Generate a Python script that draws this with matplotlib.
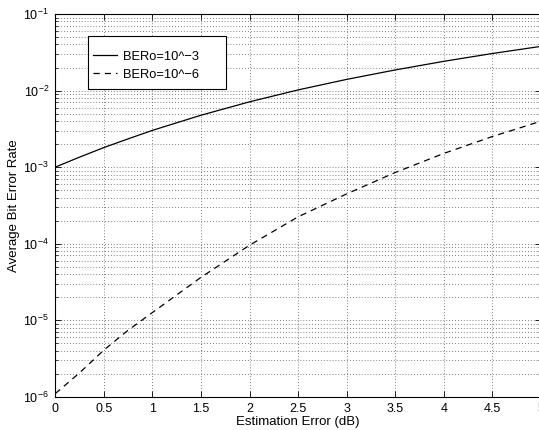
import matplotlib
matplotlib.use('Agg')
import matplotlib.pyplot as plt
from matplotlib.patches import Rectangle
from matplotlib.ticker import LogLocator, NullFormatter

plt.rcParams['font.family'] = ['Liberation Sans', 'DejaVu Sans']
plt.rcParams['mathtext.fontset'] = 'custom'
plt.rcParams['mathtext.rm'] = 'Liberation Sans'
plt.rcParams['mathtext.it'] = 'Liberation Sans'

# estimation error (dB)
err_db = [0, 0.25, 0.5, 0.75, 1, 1.5, 2, 2.5, 3, 3.5, 4, 4.5, 5]
# average BER
ber_1e3 = [1.0e-3, 1.35e-3, 1.80e-3, 2.34e-3, 3.02e-3, 4.76e-3, 7.13e-3,
           1.02e-2, 1.40e-2, 1.86e-2, 2.41e-2, 3.05e-2, 3.78e-2]
ber_1e6 = [1.1e-6, 2.05e-6, 4.07e-6, 7.4e-6, 1.26e-5, 3.63e-5, 9.55e-5,
           2.24e-4, 4.47e-4, 8.5e-4, 1.51e-3, 2.51e-3, 3.98e-3]
labels = ['BERo=10^\u22123', 'BERo=10^\u22126']

xticks = [0, 0.5, 1, 1.5, 2, 2.5, 3, 3.5, 4, 4.5, 5]
xticklabels = ['0', '0.5', '1', '1.5', '2', '2.5', '3', '3.5', '4', '4.5', '5']

fig = plt.figure(figsize=(5.39, 4.30), dpi=100)
ax = fig.add_axes([0.1026, 0.0774, 0.9011, 0.890])

ax.plot(err_db, ber_1e3, color='black', lw=0.9, ls='-', label=labels[0])
ax.plot(err_db, ber_1e6, color='black', lw=0.9, ls=(0, (5, 4)), label=labels[1])

ax.set_yscale('log')
ax.set_xlim(0, 5)
ax.set_ylim(1e-6, 1e-1)
ax.set_xticks(xticks)
ax.set_xticklabels(xticklabels)
ax.yaxis.set_minor_locator(LogLocator(base=10, subs=range(2, 10)))
ax.yaxis.set_minor_formatter(NullFormatter())

ax.tick_params(which='both', direction='in', top=True, right=True, labelsize=9, pad=4.5)
ax.tick_params(which='major', length=4, width=0.6)
ax.tick_params(which='minor', length=2, width=0.5)

grid_style = dict(ls=(0, (1, 2.5)), color='#555555', lw=0.6)
ax.grid(which='major', **grid_style)
ax.grid(which='minor', axis='y', **grid_style)
for s in ax.spines.values():
    s.set_linewidth(0.8)

ax.set_xlabel('Estimation Error (dB)', fontsize=9.5, labelpad=1)
ax.set_ylabel('Average Bit Error Rate', fontsize=9.5, labelpad=2.5)

# matlab-style legend box (wider padding than matplotlib's)
ax.add_patch(Rectangle((0.0673, 0.803), 0.2842, 0.1395, transform=ax.transAxes,
                       facecolor='white', edgecolor='black', lw=0.8, zorder=4.5))
leg = ax.legend(loc='upper left', bbox_to_anchor=(0.0776, 0.904), borderaxespad=0,
                fontsize=9.3, frameon=False, handlelength=1.86, handletextpad=0.46,
                borderpad=0, labelspacing=0.45)
leg.set_zorder(5)

fig.savefig('out.png', dpi=100)
